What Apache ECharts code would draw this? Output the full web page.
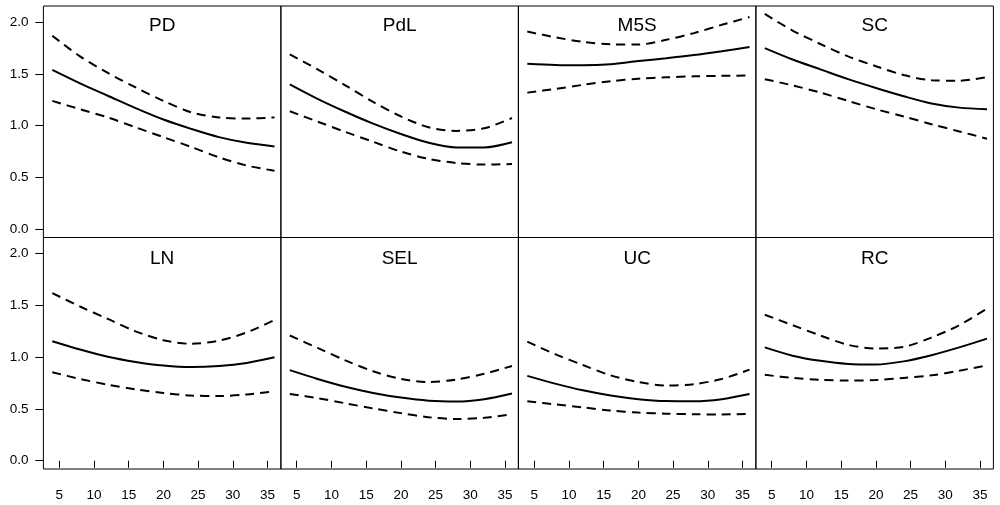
<!DOCTYPE html>
<html><head><meta charset="utf-8">
<script src="https://cdn.jsdelivr.net/npm/echarts@6/dist/echarts.min.js"></script>
<style>html,body{margin:0;padding:0;background:#fff}#c{width:1000px;height:505px}</style>
</head><body><div id="c"></div>
<script>
const panels = ['PD','PdL','M5S','SC','LN','SEL','UC','RC'];
const xs = [4, 8, 12, 16, 20, 24, 28, 32, 36];
const xTicks = [5, 10, 15, 20, 25, 30, 35];
const yTicks = [0, 0.5, 1, 1.5, 2];

const PD_est = [1.54, 1.41, 1.29, 1.17, 1.06, 0.97, 0.89, 0.835, 0.80];
const PD_up  = [1.87, 1.67, 1.51, 1.37, 1.24, 1.13, 1.08, 1.07, 1.08];
const PD_lo  = [1.24, 1.16, 1.08, 0.985, 0.89, 0.795, 0.695, 0.615, 0.565];

const PdL_est = [1.40, 1.26, 1.135, 1.02, 0.92, 0.835, 0.79, 0.79, 0.84];
const PdL_up  = [1.69, 1.545, 1.39, 1.23, 1.09, 0.985, 0.95, 0.975, 1.075];
const PdL_lo  = [1.14, 1.04, 0.94, 0.845, 0.75, 0.68, 0.64, 0.625, 0.63];

const M5S_est = [1.60, 1.588, 1.585, 1.595, 1.625, 1.652, 1.683, 1.72, 1.76];
const M5S_up  = [1.91, 1.855, 1.81, 1.787, 1.785, 1.83, 1.895, 1.975, 2.05];
const M5S_lo  = [1.32, 1.355, 1.395, 1.43, 1.455, 1.468, 1.477, 1.482, 1.485];

const SC_est = [1.75, 1.64, 1.545, 1.45, 1.365, 1.285, 1.215, 1.175, 1.16];
const SC_up  = [2.08, 1.92, 1.79, 1.67, 1.575, 1.49, 1.44, 1.435, 1.47];
const SC_lo  = [1.45, 1.39, 1.32, 1.24, 1.16, 1.09, 1.015, 0.945, 0.875];

const LN_est = [1.155, 1.075, 1.005, 0.955, 0.92, 0.905, 0.915, 0.945, 1.00];
const LN_up  = [1.62, 1.49, 1.37, 1.25, 1.165, 1.13, 1.16, 1.24, 1.36];
const LN_lo  = [0.855, 0.79, 0.735, 0.69, 0.655, 0.63, 0.625, 0.64, 0.67];

const SEL_est = [0.875, 0.79, 0.715, 0.655, 0.61, 0.58, 0.572, 0.595, 0.65];
const SEL_up  = [1.21, 1.09, 0.97, 0.865, 0.79, 0.76, 0.785, 0.84, 0.915];
const SEL_lo  = [0.645, 0.605, 0.555, 0.505, 0.46, 0.42, 0.403, 0.415, 0.45];

const UC_est = [0.82, 0.745, 0.68, 0.63, 0.595, 0.577, 0.575, 0.595, 0.645];
const UC_up  = [1.15, 1.03, 0.925, 0.825, 0.76, 0.727, 0.74, 0.79, 0.88];
const UC_lo  = [0.575, 0.545, 0.515, 0.485, 0.465, 0.455, 0.449, 0.447, 0.452];

const RC_est = [1.095, 1.015, 0.965, 0.935, 0.93, 0.96, 1.02, 1.095, 1.18];
const RC_up  = [1.41, 1.31, 1.21, 1.12, 1.085, 1.10, 1.19, 1.31, 1.47];
const RC_lo  = [0.83, 0.80, 0.782, 0.775, 0.78, 0.80, 0.825, 0.87, 0.92];

const seriesData = [
  [PD_est, PD_up, PD_lo], [PdL_est, PdL_up, PdL_lo], [M5S_est, M5S_up, M5S_lo], [SC_est, SC_up, SC_lo],
  [LN_est, LN_up, LN_lo], [SEL_est, SEL_up, SEL_lo], [UC_est, UC_up, UC_lo], [RC_est, RC_up, RC_lo]
];

const FONT = 'Liberation Sans, Arial, Helvetica, sans-serif';
const L0 = 43.4, PW = 237.5, TOP = [6, 237.5], PH = 231.5, TITLE_Y = [25.7, 259];

const grid = [], xAxis = [], yAxis = [], series = [], graphic = [];
panels.forEach((name, k) => {
  const c = k % 4, r = Math.floor(k / 4);
  grid.push({left: L0 + PW * c, top: TOP[r], width: PW, height: PH, show: true,
    borderColor: '#000', borderWidth: 1, backgroundColor: 'transparent'});
  const bottomRow = r === 1, firstCol = c === 0;
  xAxis.push({type: 'value', gridIndex: k, min: 2.72, max: 36.92,
    axisLine: {show: false}, splitLine: {show: false},
    axisTick: {show: bottomRow, inside: false, length: 7, customValues: xTicks, lineStyle: {color: '#000', width: 1}},
    axisLabel: {show: bottomRow, customValues: xTicks, margin: 19, color: '#000', fontSize: 13.5, fontFamily: FONT}
  });
  yAxis.push({type: 'value', gridIndex: k, min: -0.08, max: 2.157,
    axisLine: {show: false}, splitLine: {show: false},
    axisTick: {show: firstCol, inside: false, length: 8, customValues: yTicks, lineStyle: {color: '#000', width: 1}},
    axisLabel: {show: firstCol, customValues: yTicks, margin: 15, color: '#000', fontSize: 13.5, fontFamily: FONT,
      formatter: v => v.toFixed(1)}
  });
  const [est, up, lo] = seriesData[k];
  [[est, 'solid'], [up, [9, 6]], [lo, [9, 6]]].forEach(([arr, type]) => {
    series.push({type: 'line', xAxisIndex: k, yAxisIndex: k, smooth: 0.3, showSymbol: false, silent: true,
      data: xs.map((x, i) => [x, arr[i]]),
      lineStyle: {color: '#000', width: 2, type: type, cap: 'butt'}});
  });
  graphic.push({type: 'text', x: L0 + PW * c + PW / 2, y: TITLE_Y[r],
    style: {text: name, fontSize: 19, fontFamily: FONT, fill: '#000', textAlign: 'center', textVerticalAlign: 'middle'}});
});

const chart = echarts.init(document.getElementById('c'), null, {renderer: 'canvas'});
chart.setOption({animation: false, backgroundColor: '#fff', grid, xAxis, yAxis, series, graphic});
</script>
</body></html>
